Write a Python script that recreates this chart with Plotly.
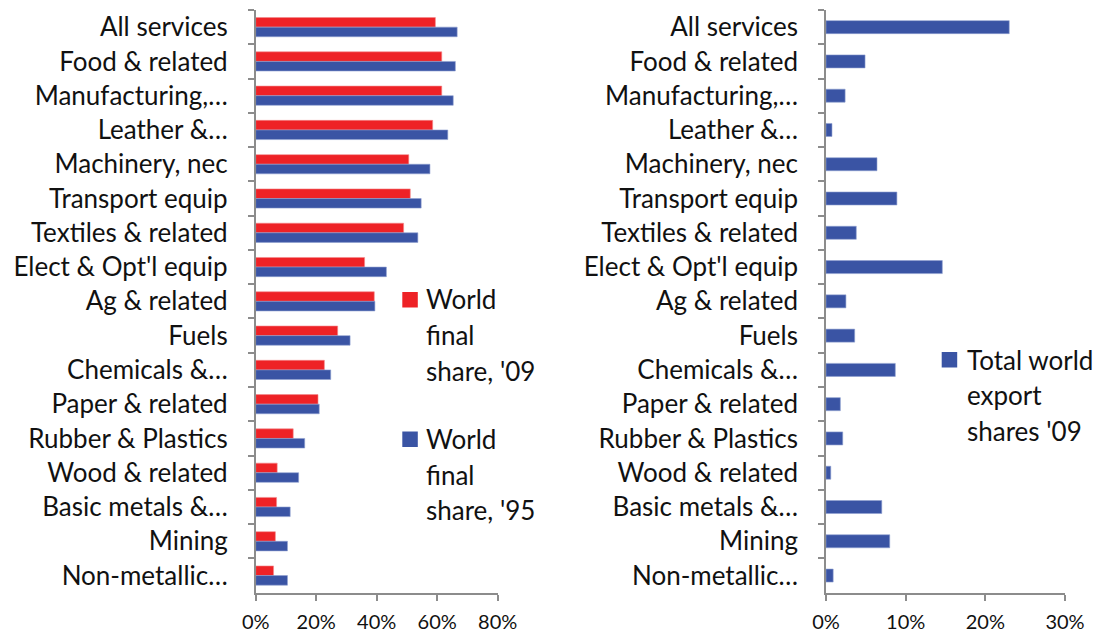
import plotly.graph_objects as go

# Sectors, listed top to bottom
sectors = [
    "All services", "Food & related", "Manufacturing,…", "Leather &…",
    "Machinery, nec", "Transport equip", "Textiles & related",
    "Elect & Opt'l equip", "Ag & related", "Fuels", "Chemicals &…",
    "Paper & related", "Rubber & Plastics", "Wood & related",
    "Basic metals &…", "Mining", "Non-metallic…",
]

# World final share by sector (%)
final_share_09 = [59.4, 61.5, 61.5, 58.5, 50.6, 51.1, 48.9, 36.0, 39.2,
                  27.1, 22.7, 20.6, 12.4, 7.1, 6.9, 6.5, 5.9]
final_share_95 = [66.6, 66.0, 65.3, 63.5, 57.6, 54.7, 53.6, 43.2, 39.4,
                  31.2, 24.8, 21.0, 16.2, 14.2, 11.4, 10.5, 10.5]

# Total world export shares, 2009 (%)
export_share_09 = [23.0, 4.9, 2.4, 0.75, 6.4, 8.9, 3.8, 14.6, 2.5,
                   3.6, 8.7, 1.8, 2.1, 0.6, 7.0, 8.0, 0.9]

left_ticks = [0, 20, 40, 60, 80]
right_ticks = [0, 10, 20, 30]

# Legend entries: (colour, lines of text)
legend_left = [
    ("#EE2226", ["World", "final", "share, '09"]),
    ("#3A54A4", ["World", "final", "share, '95"]),
]
legend_right = [("#3A54A4", ["Total world", "export", "shares '09"])]

RED = "#EE2226"
BLUE = "#3A54A4"
AXIS = "#8C8C8C"
TEXT = "#111111"
FONT = "Lato"
W, H = 1103, 635

fig = go.Figure()

fig.add_trace(go.Bar(
    y=sectors, x=final_share_09, orientation="h", name="World final share, '09",
    marker=dict(color=RED, line=dict(color="#F48A8C", width=0.6)),
    xaxis="x", yaxis="y", showlegend=False,
))
fig.add_trace(go.Bar(
    y=sectors, x=final_share_95, orientation="h", name="World final share, '95",
    marker=dict(color=BLUE, line=dict(color="#8FA0D0", width=0.6)),
    xaxis="x", yaxis="y", showlegend=False,
))
fig.add_trace(go.Bar(
    y=sectors, x=export_share_09, orientation="h", name="Total world export shares '09",
    marker=dict(color=BLUE, line=dict(color="#8FA0D0", width=0.6)),
    xaxis="x2", yaxis="y2", width=0.38, showlegend=False,
))

y_dom = [1 - 592.7 / H, 1 - 10 / H]

common_y = dict(
    type="category", autorange="reversed", showline=True, linecolor=AXIS,
    linewidth=1.6, ticks="outside", ticklen=6, tickcolor=AXIS, tickwidth=1.6,
    tickson="boundaries", showgrid=False, zeroline=False,
    tickfont=dict(family=FONT, size=26, color=TEXT),
    ticklabelstandoff=21, automargin=False, domain=y_dom,
)
common_x = dict(
    showline=True, linecolor=AXIS, linewidth=1.6, ticks="outside", ticklen=6,
    tickcolor=AXIS, tickwidth=1.6, showgrid=False, zeroline=False,
    tickfont=dict(family=FONT, size=20, color=TEXT),
    ticklabelstandoff=4, automargin=False,
)


def pct(vals):
    return [f"{v}%" for v in vals]


# Legend drawn as swatches plus one text line per row
shapes, annotations = [], []


def add_legend(entries, sw_x, text_x, first_baseline, line_step, entry_step):
    for i, (color, lines) in enumerate(entries):
        base = first_baseline + i * entry_step
        shapes.append(dict(
            type="rect", xref="paper", yref="paper",
            x0=sw_x / W, x1=(sw_x + 15.5) / W,
            y0=1 - base / H, y1=1 - (base - 15.5) / H,
            fillcolor=color, line=dict(width=0),
        ))
        for j, line in enumerate(lines):
            b = base + j * line_step
            annotations.append(dict(
                text=line, xref="paper", yref="paper", showarrow=False,
                x=text_x / W, y=1 - (b - 8) / H, xanchor="left", yanchor="middle",
                font=dict(family=FONT, size=26, color=TEXT),
            ))


add_legend(legend_left, 402.3, 424, 307.5, 35.5, 139.5)
add_legend(legend_right, 941.7, 965, 367.5, 35.5, 0)

fig.update_layout(
    width=W, height=H,
    margin=dict(l=0, r=0, t=0, b=0),
    paper_bgcolor="white", plot_bgcolor="white",
    barmode="group", bargap=0.44, bargroupgap=0,
    font=dict(family=FONT, color=TEXT),
    showlegend=False,
    xaxis=dict(common_x, domain=[255.7 / W, 497.7 / W], range=[0, 80],
               tickvals=left_ticks, ticktext=pct(left_ticks), anchor="y"),
    yaxis=dict(common_y, anchor="x"),
    xaxis2=dict(common_x, domain=[826 / W, 1065 / W], range=[0, 30],
                tickvals=right_ticks, ticktext=pct(right_ticks), anchor="y2"),
    yaxis2=dict(common_y, anchor="x2"),
    shapes=shapes,
    annotations=annotations,
)

fig.write_html("out.html")
